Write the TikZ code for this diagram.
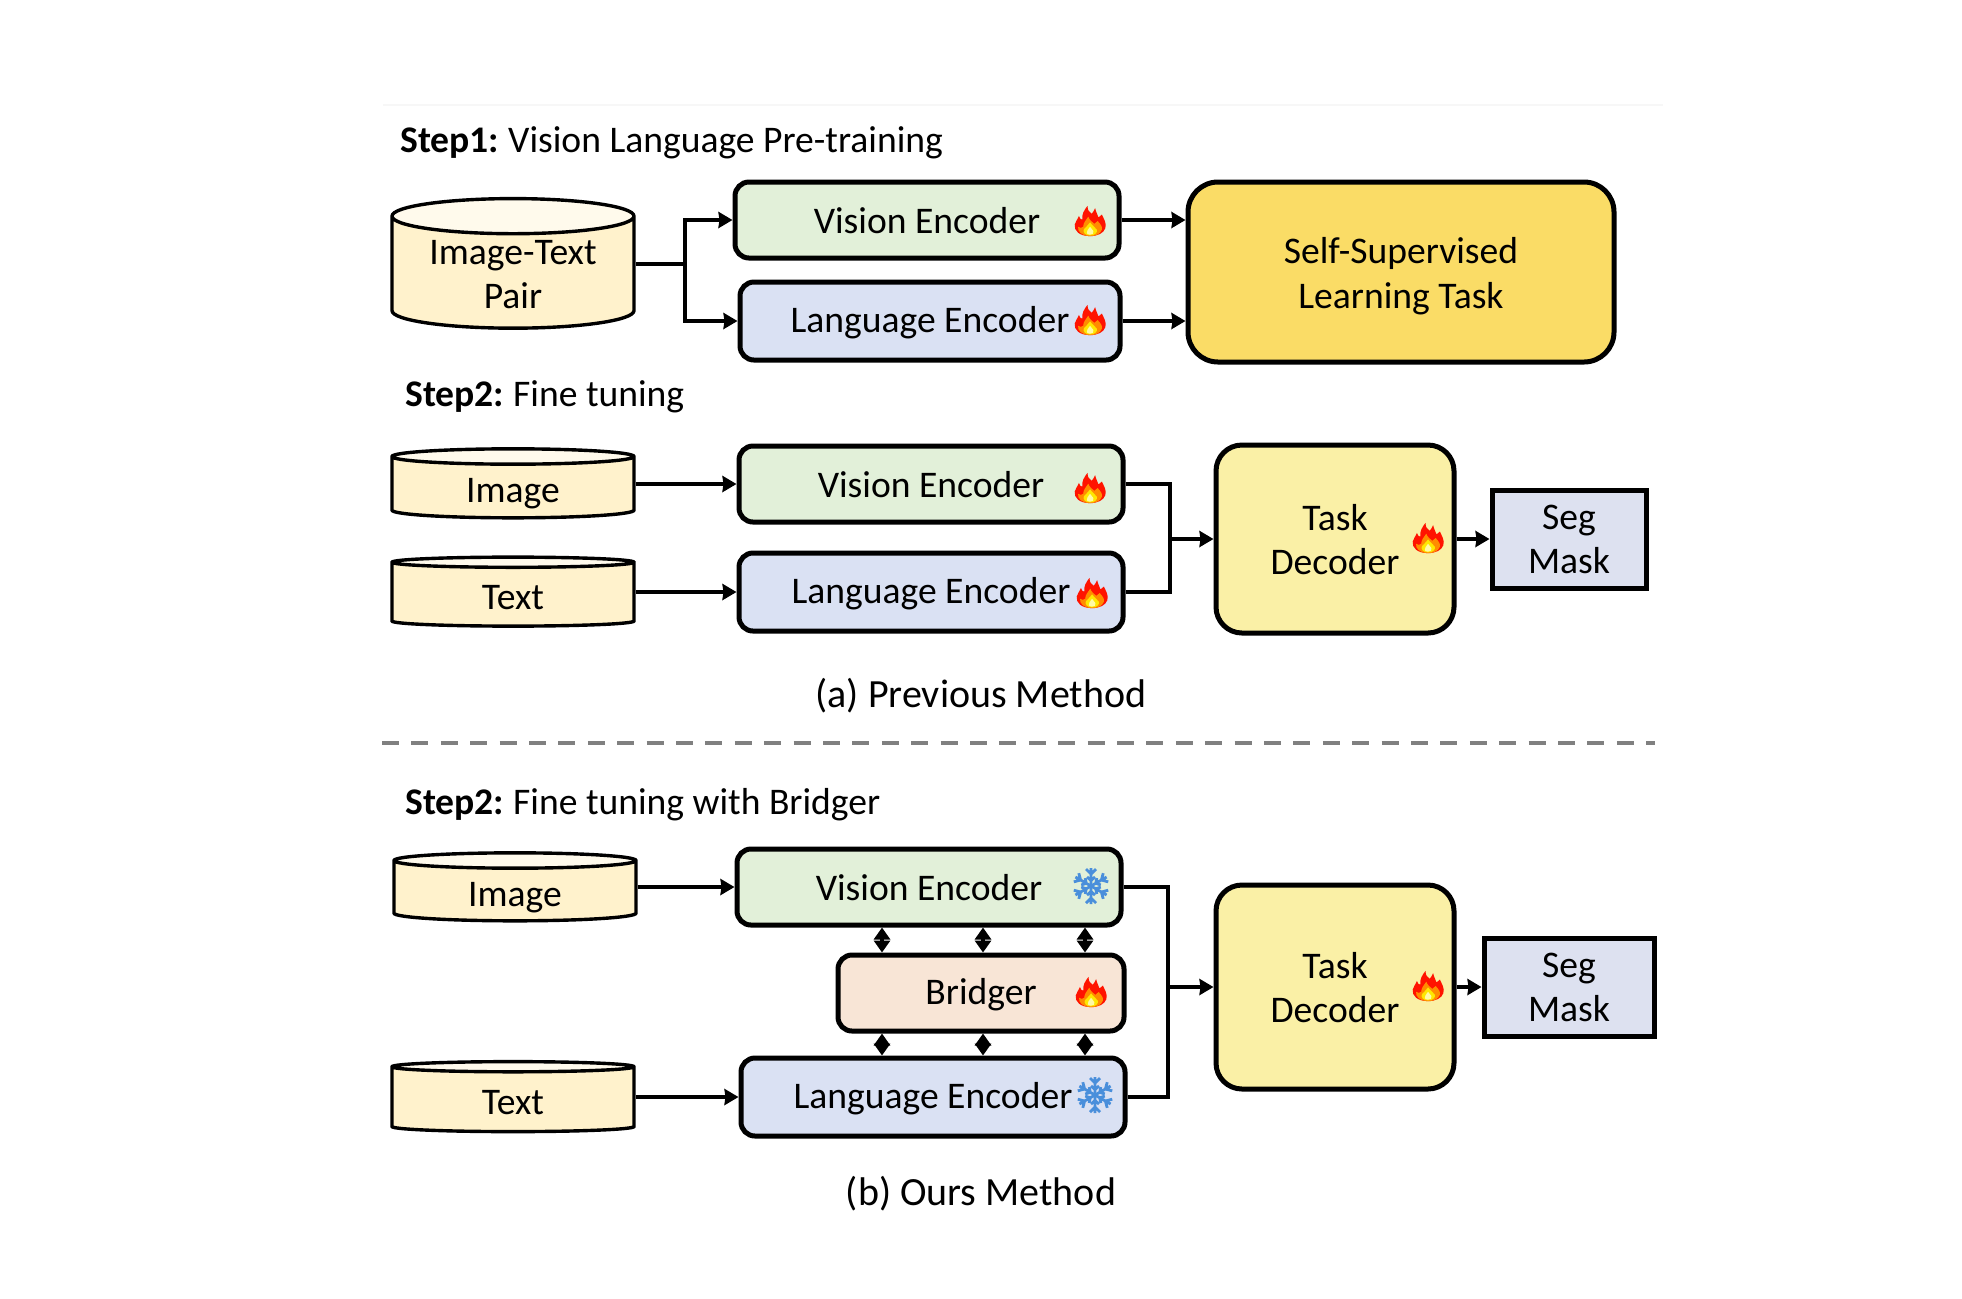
\documentclass[tikz,border=0pt]{standalone}
\usepackage{fontspec}
\setmainfont{Carlito}
\usetikzlibrary{arrows.meta, shapes.geometric}
\definecolor{cylbody}{HTML}{FFF2CC}
\definecolor{cyltop}{HTML}{FFFAEC}
\definecolor{visfill}{HTML}{E2F0D9}
\definecolor{langfill}{HTML}{DAE1F3}
\definecolor{brgfill}{HTML}{F8E5D6}
\definecolor{decfill}{HTML}{FAF0A6}
\definecolor{sslfill}{HTML}{FADC66}
\definecolor{segfill}{HTML}{DDE1F0}
\definecolor{snowblue}{HTML}{4A8FDB}
\begin{document}
\begin{tikzpicture}[x=0.5pt, y=-0.5pt,
        txt/.style={font=\fontsize{18.8}{22}\selectfont, align=center, inner sep=0pt},
        captxt/.style={font=\fontsize{20}{24}\selectfont, inner sep=0pt},
        box/.style={txt, draw, line width=2.5pt, rounded corners=7pt},
        encvis/.style={box, fill=visfill, minimum width=192pt, minimum height=38pt, text height=13.9pt, text depth=0.75pt},
        enclang/.style={box, fill=langfill, minimum width=192pt, minimum height=39pt, text height=13.9pt, text depth=2.8pt},
        brg/.style={box, fill=brgfill, minimum width=143pt, minimum height=38pt, text height=13.9pt, text depth=2.8pt},
        dec/.style={box, rounded corners=13pt, fill=decfill, minimum width=119pt, text height=35.5pt, text depth=0pt},
        seg/.style={txt, draw, line width=2.5pt, fill=segfill, minimum height=49pt, text height=34.7pt, text depth=0pt},
        db/.style={txt, draw, line width=1.7pt, cylinder, shape border rotate=90, cylinder uses custom fill,
            cylinder body fill=cylbody, cylinder end fill=cyltop, minimum width=121pt},
        dbthin/.style={db, shape aspect=0.164, minimum height=34.5pt, text height=14.5pt, text depth=0pt},
        arr/.style={-{Stealth[length=7pt, width=8pt, inset=0.5pt]}, line width=1.7pt},
        link/.style={line width=1.7pt},
        both/.style={{Stealth[length=6pt, width=8pt, inset=0pt]}-{Stealth[length=6pt, width=8pt, inset=0pt]}, line width=1.8pt},
        flame/.pic={
            \begin{scope}[xscale=0.85, yscale=0.72]
            \fill[red!85!orange] (0,21) .. controls (-13,21) and (-19,13) .. (-18,5) .. controls (-17,1) and (-15,-2) .. (-13,-7)
                .. controls (-12,-3) and (-11,-2) .. (-9,-2) .. controls (-10,-9) and (-7,-15) .. (-3,-21)
                .. controls (-3,-14) and (0,-12) .. (2,-10) .. controls (4,-13) and (5,-15) .. (6,-18)
                .. controls (7,-12) and (9,-9) .. (10,-5) .. controls (12,-6) and (13,-7) .. (14,-9)
                .. controls (16,-3) and (20,3) .. (18,10) .. controls (16,17) and (9,21) .. (0,21) -- cycle;
            \fill[orange!90!yellow] (0,21) .. controls (-10,21) and (-15,14) .. (-14,8) .. controls (-12,10) and (-10,10) .. (-8,8)
                .. controls (-8,3) and (-5,-1) .. (-2,-6) .. controls (-1,-1) and (3,1) .. (5,4)
                .. controls (7,3) and (8,2) .. (9,0) .. controls (12,4) and (15,8) .. (14,12) .. controls (12,18) and (7,21) .. (0,21) -- cycle;
            \fill[yellow!90!orange] (0,20) .. controls (-6,20) and (-9,15) .. (-7,11) .. controls (-5,8) and (-2,6) .. (0,2)
                .. controls (2,6) and (6,8) .. (8,12) .. controls (9,16) and (6,20) .. (0,20) -- cycle;
            \fill[yellow!35] (0,19) .. controls (-4,19) and (-5,15) .. (-3,13) .. controls (-2,11) and (-1,10) .. (0,8)
                .. controls (1,10) and (3,12) .. (4,14) .. controls (5,17) and (3,19) .. (0,19) -- cycle;
            \end{scope}
        },
        snow/.pic={
            \foreach \ang in {0,60,...,300} {
                \draw[snowblue, line width=1.4pt, rotate=\ang]
                    (0,0) -- (0,-18) (-5,-17) -- (0,-12) -- (5,-17) (-4,-9) -- (0,-5.5) -- (4,-9);
            }
        }]
    \useasboundingbox (0,0) rectangle (1962,1298);
    \fill[black!3] (383,104) rectangle (1663,106);

    % top part
    \node[txt, anchor=west] (lblone) at (400,143) {\textbf{Step1:}\kern-1.2pt{} Vision Language Pre-training};
    \node[db, shape aspect=0.21, minimum height=50pt, text height=36.6pt, text depth=1pt] (pair) at (513,273) {Image-Text\\Pair};
    \node[encvis] (visa) at (927,220) {Vision Encoder};
    \node[enclang, minimum width=190pt] (langa) at (930,321) {Language Encoder};
    \node[box, rounded corners=15pt, fill=sslfill, minimum width=213pt, minimum height=90pt, text height=36pt, text depth=0pt] (ssl) at (1401,272) {Self-Supervised\\[0.5pt]Learning Task};
    \coordinate (split) at (685,0);
    \draw[link] (pair.east |- 0,264) -- (split |- 0,264);
    \draw[arr] (split |- 0,264) |- (visa.west);
    \draw[arr] (split |- 0,264) |- (langa.west);
    \draw[arr] (visa.east) -- (ssl.west |- visa.east);
    \draw[arr] (langa.east) -- (ssl.west |- langa.east);
    \pic at (1090,221) {flame};
    \pic at (1090,320) {flame};

    % fine tuning
    \node[txt, anchor=west] (lbltwo) at (405,397) {\textbf{Step2:}\kern-1.2pt{} Fine tuning};
    \node[dbthin] (imga) at (513,488) {Image};
    \node[dbthin] (texta) at (513,595) {Text};
    \node[encvis] (visb) at (931,484) {Vision Encoder};
    \node[enclang] (langb) at (931,592) {Language Encoder};
    \node[dec, minimum height=94pt] (deca) at (1335,539) {Task\\Decoder};
    \node[seg, minimum width=77pt] (maska) at (1569,539) {Seg\\Mask};
    \coordinate (joina) at (1170,0);
    \draw[arr] (imga.east |- visb.west) -- (visb.west);
    \draw[arr] (texta.east |- langb.west) -- (langb.west);
    \draw[link] (visb.east) -| (joina |- deca.west);
    \draw[link] (langb.east) -| (joina |- deca.west);
    \draw[arr] (joina |- deca.west) -- (deca.west);
    \draw[arr] (deca.east) -- (maska.west);
    \pic at (1090,488) {flame};
    \pic at (1092,593) {flame};
    \pic at (1428,538) {flame};

    \node[captxt] (capa) at (981,695.5) {(a) Previous Method};
    \draw[dash pattern=on 8.5pt off 6.2pt, black!50, line width=2.2pt] (382,743) -- (1655,743);

    % with bridger
    \node[txt, anchor=west] (lblthree) at (405,805) {\textbf{Step2:}\kern-1.2pt{} Fine tuning with Bridger};
    \node[dbthin, minimum height=34pt] (imgb) at (515,891.5) {Image};
    \node[dbthin, minimum height=35pt] (textb) at (513,1100) {Text};
    \node[encvis] (visc) at (929,887) {Vision Encoder};
    \node[brg] (bridger) at (981,993) {Bridger};
    \node[enclang] (langc) at (933,1097) {Language Encoder};
    \node[dec, minimum height=102pt] (decb) at (1335,987) {Task\\Decoder};
    \node[seg, minimum width=85pt] (maskb) at (1569,987) {Seg\\Mask};
    \coordinate (joinb) at (1168,0);
    \draw[arr] (imgb.east |- visc.west) -- (visc.west);
    \draw[arr] (textb.east |- langc.west) -- (langc.west);
    \draw[link] (visc.east) -| (joinb |- decb.west);
    \draw[link] (langc.east) -| (joinb |- decb.west);
    \draw[arr] (joinb |- decb.west) -- (decb.west);
    \draw[arr] (decb.east) -- (maskb.west);
    \foreach \n/\px in {p/882,q/983,r/1085} {
        \coordinate (\n) at (\px,0);
        \draw[both] (\n |- visc.south) -- (\n |- bridger.north);
        \draw[both] (\n |- bridger.south) -- (\n |- langc.north);
    }
    \pic at (1091,886) {snow};
    \pic at (1095,1095) {snow};
    \pic at (1091,992) {flame};
    \pic at (1428,986) {flame};

    \node[captxt] (capb) at (981,1193.5) {(b) Ours Method};
\end{tikzpicture}
\end{document}
